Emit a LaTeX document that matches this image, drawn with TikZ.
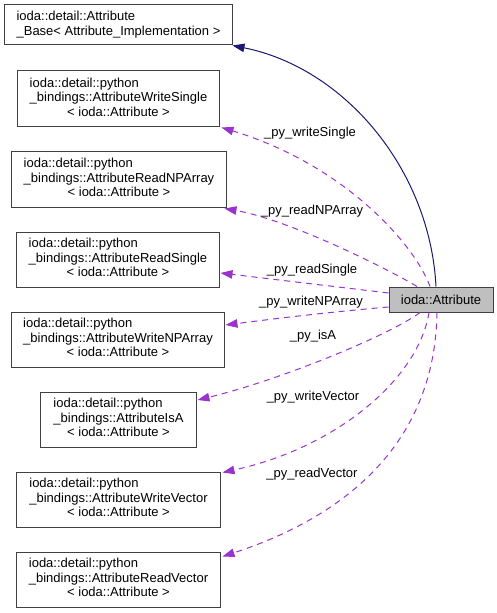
\documentclass[tikz,border=0pt]{standalone}
\usepackage{fontspec}
\setmainfont{Liberation Sans}
\usetikzlibrary{arrows.meta,calc}
\definecolor{inhcol}{HTML}{191970}
\definecolor{usecol}{HTML}{9A32CD}
\definecolor{bordcol}{HTML}{404040}
\definecolor{attrfill}{HTML}{BFBFBF}
\newcommand{\threelines}[3]{\begin{tabular}{@{}l@{}}#1\\#2\\\multicolumn{1}{@{}c@{}}{#3}\end{tabular}}
\newcommand{\twolines}[2]{\begin{tabular}{@{}l@{}}#1\\#2\end{tabular}}
\begin{document}
\begin{tikzpicture}[x=1bp,y=-1bp,
  cls/.style={draw=bordcol, line width=1bp, inner sep=0pt, minimum height=55bp,
    font=\fontsize{13bp}{14.5bp}\selectfont},
  curcls/.style={draw=bordcol, fill=attrfill, line width=1bp, inner sep=0pt,
    minimum width=104bp, minimum height=25bp, font=\fontsize{13bp}{14.5bp}\selectfont},
  lbl/.style={inner sep=0pt, font=\fontsize{13bp}{14.5bp}\selectfont},
  inhedge/.style={draw=inhcol, line width=1bp,
    -{Triangle[length=12bp,width=8.5bp,fill=inhcol]}},
  useedge/.style={draw=usecol, line width=1bp, dash pattern=on 6bp off 5bp,
    -{Triangle[length=12bp,width=8.5bp,fill=usecol]}}]
\useasboundingbox (0,0) rectangle (497,613);

\node[cls, minimum width=227bp, minimum height=40bp] (base) at (118.5,25)
  {\twolines{ioda::detail::Attribute}{\_Base< Attribute\_Implementation >}};
\node[cls, minimum width=201bp, minimum height=56bp] (ws) at (118.5,99)
  {\threelines{ioda::detail::python}{\_bindings::AttributeWriteSingle}{< ioda::Attribute >}};
\node[cls, minimum width=214bp] (rn) at (119,179.5)
  {\threelines{ioda::detail::python}{\_bindings::AttributeReadNPArray}{< ioda::Attribute >}};
\node[cls, minimum width=202bp] (rs) at (118,259.5)
  {\threelines{ioda::detail::python}{\_bindings::AttributeReadSingle}{< ioda::Attribute >}};
\node[cls, minimum width=212bp] (wn) at (118,339.5)
  {\threelines{ioda::detail::python}{\_bindings::AttributeWriteNPArray}{< ioda::Attribute >}};
\node[cls, minimum width=155bp] (ia) at (118.5,419.5)
  {\threelines{ioda::detail::python}{\_bindings::AttributeIsA}{< ioda::Attribute >}};
\node[cls, minimum width=203bp] (wv) at (118.5,499.5)
  {\threelines{ioda::detail::python}{\_bindings::AttributeWriteVector}{< ioda::Attribute >}};
\node[cls, minimum width=203bp] (rv) at (118.5,579.5)
  {\threelines{ioda::detail::python}{\_bindings::AttributeReadVector}{< ioda::Attribute >}};
\node[curcls] (attr) at (441,299.5) {ioda::Attribute};

% inheritance
\draw[inhedge] ($(attr.north)+(-5,0)$) .. controls (430,170) and (345,68) .. (base.south east);

% usage edges
\draw[useedge] ($(attr.north)+(-11,0)$) .. controls (415,245) and (345,165) .. ($(ws.south east)+(2,0)$);
\draw[useedge] ($(attr.north)+(-24,0)$) .. controls (390,270) and (290,220) .. ($(rn.south east)+(-2,1)$);
\draw[useedge] ($(attr.west)+(0,-6.5)$) -- ($(rs.east)+(1,13.5)$);
\draw[useedge] ($(attr.west)+(0,7.5)$) .. controls (330,312) and (280,318) .. ($(wn.east)+(1,-14.5)$);
\draw[useedge] ($(attr.south)+(-21,0)$) .. controls (390,335) and (280,380) .. ($(ia.east)+(1,-19.5)$);
\draw[useedge] ($(attr.south)+(-12,0)$) .. controls (418,380) and (335,448) .. ($(wv.north east)+(2,1)$);
\draw[useedge] ($(attr.south)+(-4,0)$) .. controls (435,440) and (350,515) .. ($(rv.north east)+(2,5)$);

% labels
\node[lbl] (l1) at (310,133) {\_py\_writeSingle};
\node[lbl] (l2) at (312,211) {\_py\_readNPArray};
\node[lbl] (l3) at (312,270) {\_py\_readSingle};
\node[lbl] (l4) at (311,302) {\_py\_writeNPArray};
\node[lbl] (l5) at (313,336) {\_py\_isA};
\node[lbl] (l6) at (313,397) {\_py\_writeVector};
\node[lbl] (l7) at (312,474) {\_py\_readVector};
\end{tikzpicture}
\end{document}
